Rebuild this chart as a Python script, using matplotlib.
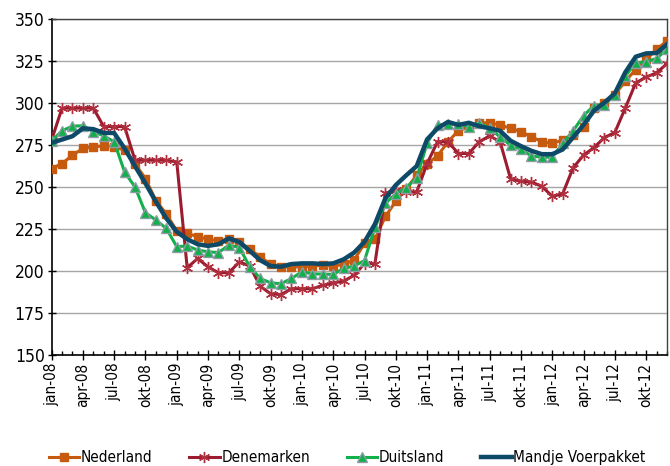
import matplotlib
matplotlib.use("Agg")
import matplotlib.pyplot as plt
from matplotlib.ticker import FixedLocator, MultipleLocator
from matplotlib import font_manager
import numpy as np

months = ["jan", "feb", "mrt", "apr", "mei", "jun", "jul", "aug", "sep", "okt", "nov", "dec"]
years = ["08", "09", "10", "11", "12"]
categories = [f"{m}-{y}" for y in years for m in months]

nederland = [261, 264, 269, 273, 274, 274.5, 274, 272, 264, 255, 242, 234,
             224, 222.5, 220.5, 219, 218, 219, 217.5, 213, 208.5, 204, 202.5, 202.5,
             202.5, 203, 203.5, 203, 204, 206.5, 216.5, 219, 232.5, 241.5, 249, 257,
             264, 268.5, 277, 283.5, 286, 288.3, 288.3, 287, 285, 283, 280, 277,
             276, 278, 281, 286, 297, 300, 305, 313, 320, 326, 332, 337]
denemarken = [278, 297, 297, 297, 297, 286, 286, 286, 266, 266, 266, 266,
              265, 202, 207.5, 202.5, 199, 199, 205.5, 203, 191, 186.5, 186, 189.5,
              189.5, 189.5, 191.5, 193, 194, 197.5, 204.5, 204.5, 246.5, 248, 247, 247,
              264, 277, 277, 270, 270, 277, 280.5, 277, 255, 253.5, 253, 250.5,
              244.5, 246, 261.5, 269, 273.5, 279.5, 282.5, 297, 312, 315.5, 318, 323.5]
duitsland = [277.5, 283.5, 286.3, 286.5, 283, 280.5, 277, 259, 250, 234.7, 230.4, 225.4,
             214.5, 215, 212.5, 211.5, 211, 215.5, 214, 202.6, 195.6, 193, 192.5, 195.6,
             199.6, 198.4, 198.2, 198, 201.6, 203, 206.3, 226, 240.3, 246.1, 249.5, 255.5,
             276, 287, 287.5, 287.5, 286, 288.3, 285, 279.8, 275, 272.5, 268.5, 267.8,
             267.8, 276, 283.5, 292.5, 298.5, 299, 305, 316, 324, 324.6, 326.6, 332]
mandje = [276.4, 278.3, 280.3, 285, 284.5, 282.3, 282.2, 273, 262.5, 252.2, 241.3, 231.4,
          223.4, 219, 216, 215, 216, 219.5, 217.3, 212, 206.5, 203, 202.6, 204.2,
          204.6, 204.6, 204.2, 204.6, 207, 211, 217.4, 228, 243.3, 251.2, 257, 262.5,
          278.4, 285, 288.8, 287, 288.3, 286.3, 285, 283.5, 277.6, 274.4, 271.6, 269.6,
          269.6, 272.4, 279.6, 287, 295.5, 300.3, 305.8, 318.3, 327.6, 329.6, 329.8, 335]

names = {f.name for f in font_manager.fontManager.ttflist}
if 'Liberation Sans Narrow' in names:
    plt.rcParams['font.family'] = ['Liberation Sans Narrow', 'DejaVu Sans']
else:
    plt.rcParams['font.family'] = ['DejaVu Sans']
    plt.rcParams['font.stretch'] = 'condensed'

fig = plt.figure(figsize=(6.70, 4.66), dpi=100)
ax = fig.add_axes([0.077, 0.238, 0.9185, 0.721])

x = np.arange(len(categories))

c_nl = '#C65A0E'
c_dk = '#9B1C2E'
c_de = '#12B04A'
c_mv = '#0E4A68'

ax.plot(x, nederland, color=c_nl, lw=2.2, marker='s', ms=5.8, mfc=c_nl, mec=c_nl,
        label='Nederland', zorder=3)
ax.plot(x, denemarken, color=c_dk, lw=2.2, marker=(6, 2, 0), ms=8, mec='#B0303F', mew=1.0,
        label='Denemarken', zorder=3)
ax.plot(x, duitsland, color=c_de, lw=2.2, marker='^', ms=6.8, mfc=c_de, mec='#8F9BA6', mew=1.0,
        label='Duitsland', zorder=4)
ax.plot(x, mandje, color=c_mv, lw=3.2, label='Mandje Voerpakket', zorder=5,
        solid_joinstyle='round')

ax.set_xlim(0, len(categories) - 1)
ax.set_ylim(150, 350)
ax.yaxis.set_major_locator(MultipleLocator(25))
ax.grid(axis='y', color='#A6A6A6', lw=1.0)
ax.set_axisbelow(True)

major = list(range(0, len(categories), 3))
ax.xaxis.set_major_locator(FixedLocator(major))
ax.set_xticklabels([categories[i] for i in major], rotation=90)
ax.xaxis.set_minor_locator(FixedLocator(list(range(len(categories)))))
ax.tick_params(axis='x', which='major', direction='inout', length=7, width=1, labelsize=11, pad=2)
ax.tick_params(axis='x', which='minor', direction='in', length=3, width=1)
ax.tick_params(axis='y', which='major', direction='inout', length=6, width=1, labelsize=12.5, pad=2)

for s in ['left', 'bottom']:
    ax.spines[s].set_color('black')
    ax.spines[s].set_linewidth(1.2)
for s in ['top', 'right']:
    ax.spines[s].set_color('#404040')
    ax.spines[s].set_linewidth(1.0)

fig.legend(loc='center', bbox_to_anchor=(0.518, 0.018), ncol=4, frameon=False,
           fontsize=11, handlelength=2.0, handletextpad=0.1, columnspacing=2.4,
           borderpad=0.1)

fig.savefig('out.png', dpi=100)
